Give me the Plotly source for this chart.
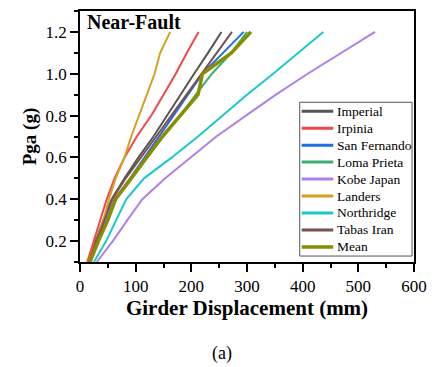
import plotly.graph_objects as go

pga = [0.1, 0.2, 0.3, 0.4, 0.5, 0.6, 0.7, 0.8, 0.9, 1.0, 1.1, 1.2]

imperial = [16, 28, 42, 57, 80, 105, 132, 156, 181, 205, 230, 254]
irpinia = [13, 25, 37, 48, 62, 80, 102, 128, 150, 172, 192, 213]
san_fernando = [16, 31, 48, 62, 90, 116, 143, 168, 195, 220, 257, 294]
loma_prieta = [17, 32, 50, 64, 93, 120, 150, 180, 208, 237, 272, 300]
kobe_japan = [30, 59, 85, 112, 153, 200, 245, 298, 352, 409, 470, 530]
landers = [15, 30, 42, 52, 64, 80, 92, 106, 120, 134, 144, 162]
northridge = [25, 47, 65, 83, 115, 165, 212, 255, 300, 347, 392, 437]
tabas_iran = [16, 30, 45, 58, 82, 110, 137, 164, 191, 218, 245, 273]
mean = [18, 33, 50, 64, 92, 120, 148, 180, 212, 220, 272, 307]

series = [
    ("Imperial", imperial, "#555555", 2),
    ("Irpinia", irpinia, "#F04848", 2),
    ("San Fernando", san_fernando, "#1E6FE0", 2),
    ("Loma Prieta", loma_prieta, "#3CB070", 2),
    ("Kobe Japan", kobe_japan, "#B080E6", 2),
    ("Landers", landers, "#D4A020", 2),
    ("Northridge", northridge, "#1CC8CC", 2),
    ("Tabas Iran", tabas_iran, "#7A5050", 2),
    ("Mean", mean, "#8C8C00", 3.5),
]

serif = "Liberation Serif, Times New Roman, serif"

W, H = 436, 367
ML, MR, MT, MB = 80, 17, 9, 105
PW, PH = W - ML - MR, H - MT - MB


def px_x(p):
    return (p - ML) / PW


def px_y(p):
    return (H - MB - p) / PH


fig = go.Figure()
for name, xs, color, w in series:
    fig.add_trace(go.Scatter(x=xs, y=pga, mode="lines", name=name,
                             line=dict(color=color, width=w), showlegend=False))

# manual legend (box + samples + labels)
shapes = [dict(type="rect", xref="paper", yref="paper",
               x0=px_x(303), x1=px_x(417), y0=px_y(256), y1=px_y(101),
               line=dict(color="#555555", width=1), fillcolor="white", layer="above")]
annotations = []
for i, (name, xs, color, w) in enumerate(series):
    yy = px_y(110 + 17.1 * i)
    shapes.append(dict(type="line", xref="paper", yref="paper",
                       x0=px_x(305), x1=px_x(337), y0=yy, y1=yy,
                       line=dict(color=color, width=3.5 if w > 2 else 3), layer="above"))
    annotations.append(dict(text=name, x=px_x(339), y=yy, xref="paper", yref="paper",
                            xanchor="left", yanchor="middle", showarrow=False,
                            font=dict(size=13.5, family=serif, color="black")))

annotations += [
    dict(text="<b>Near-Fault</b>", x=px_x(85), y=px_y(20), xref="paper", yref="paper",
         xanchor="left", yanchor="middle", showarrow=False,
         font=dict(size=20, family=serif)),
    dict(text="(a)", x=px_x(224), y=px_y(354), xref="paper", yref="paper",
         xanchor="center", yanchor="middle", showarrow=False,
         font=dict(size=18, family=serif)),
]

fig.update_layout(
    width=W, height=H,
    margin=dict(l=ML, r=MR, t=MT, b=MB),
    paper_bgcolor="white", plot_bgcolor="white",
    font=dict(family=serif, color="black"),
    showlegend=False,
    shapes=shapes,
    annotations=annotations,
)

fig.update_xaxes(
    range=[0, 600], dtick=100, tick0=0,
    showline=True, linecolor="black", linewidth=1.5, mirror=True,
    ticks="outside", ticklen=8, tickwidth=1.5, tickcolor="black",
    minor=dict(dtick=50, ticks="outside", ticklen=4, tickwidth=1.5, tickcolor="black"),
    showgrid=False, zeroline=False,
    tickfont=dict(size=17, family=serif),
    title=dict(text="<b>Girder Displacement (mm)</b>", font=dict(size=21, family=serif), standoff=2),
)
fig.update_yaxes(
    range=[0.1, 1.3], dtick=0.2, tick0=0.2, tickformat=".1f",
    showline=True, linecolor="black", linewidth=1.5, mirror=True,
    ticks="outside", ticklen=8, tickwidth=1.5, tickcolor="black",
    minor=dict(dtick=0.1, tick0=0.1, ticks="outside", ticklen=4, tickwidth=1.5, tickcolor="black"),
    showgrid=False, zeroline=False,
    tickfont=dict(size=17, family=serif),
    title=dict(text="<b>Pga (g)</b>", font=dict(size=19, family=serif), standoff=4),
)

fig.write_html("out.html")
